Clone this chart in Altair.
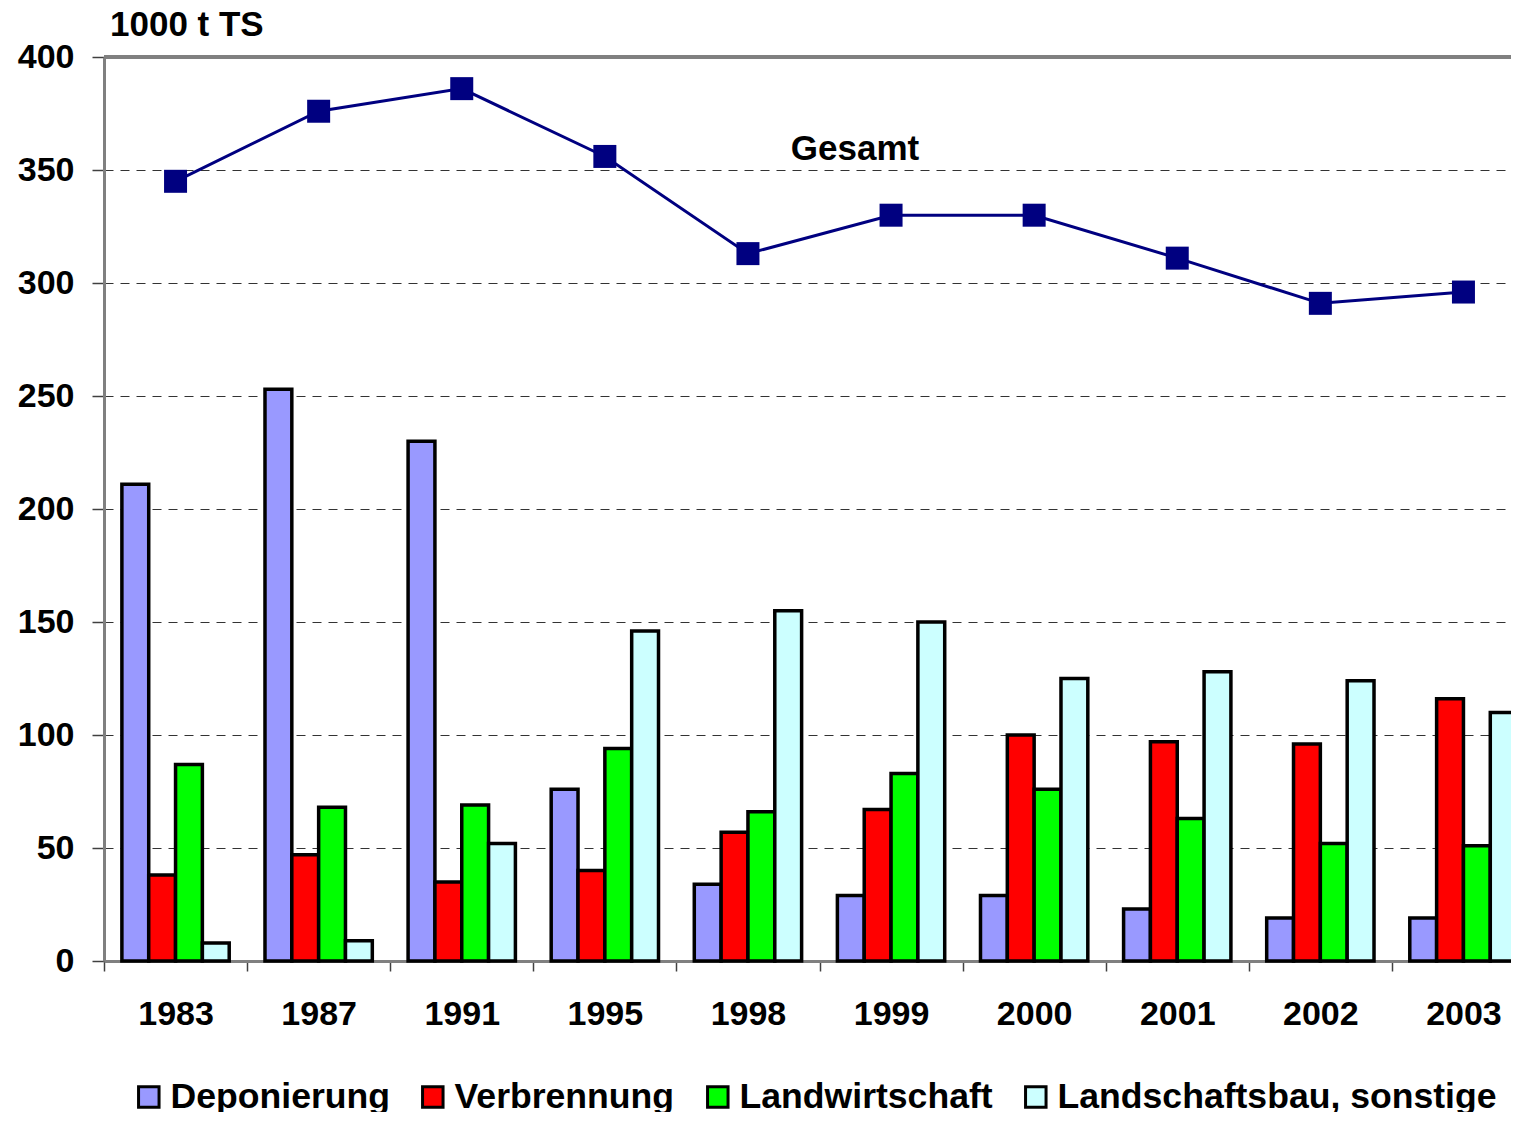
import altair as alt
import pandas as pd

FONT = "Liberation Sans"

years = ["1983", "1987", "1991", "1995", "1998", "1999", "2000", "2001", "2002", "2003"]
series_names = ["Deponierung", "Verbrennung", "Landwirtschaft", "Landschaftsbau, sonstige"]
series_colors = ["#9999FF", "#FF0000", "#00FF00", "#CCFFFF"]

deponierung = [211, 253, 230, 76, 34, 29, 29, 23, 19, 19]
verbrennung = [38, 47, 35, 40, 57, 67, 100, 97, 96, 116]
landwirtschaft = [87, 68, 69, 94, 66, 83, 76, 63, 52, 51]
landschaftsbau = [8, 9, 52, 146, 155, 150, 125, 128, 124, 110]
gesamt = [345, 376, 386, 356, 313, 330, 330, 311, 291, 296]

y_ticks = [0, 50, 100, 150, 200, 250, 300, 350, 400]

rows = []
for i, yr in enumerate(years):
    for name, vals in zip(series_names, [deponierung, verbrennung, landwirtschaft, landschaftsbau]):
        rows.append({"Jahr": yr, "Art": name, "Wert": vals[i]})
bars_df = pd.DataFrame(rows)
total_df = pd.DataFrame({"Jahr": years, "Gesamt": gesamt})
one_df = pd.DataFrame({"a": [0]})

W, H = 1431, 904
P_IN, P_OUT = 0.25, 0.125
step = W / (len(years) - P_IN + 2 * P_OUT)
half_gap = P_IN * step / 2

x_scale = alt.Scale(domain=years, paddingInner=P_IN, paddingOuter=P_OUT)
y_scale = alt.Scale(domain=[0, 400], nice=False)

x_axis = alt.Axis(
    title=None, labelFont=FONT, labelFontSize=34, labelFontWeight="bold",
    labelColor="black", labelAngle=0, labelPadding=26, tickSize=10,
    tickColor="#404040", tickWidth=1.5, bandPosition=0, tickOffset=-half_gap,
    labelOffset=half_gap, domainColor="#808080", domainWidth=3, grid=False,
)
y_axis = alt.Axis(
    title=None, values=y_ticks, labelFont=FONT, labelFontSize=34,
    labelFontWeight="bold", labelColor="black", labelPadding=18, tickSize=12,
    tickColor="#404040", tickWidth=1.5, domainColor="#808080", domainWidth=3,
    grid=True, gridDash=[9, 7], gridColor="#333333", gridWidth=1,
)

bars = alt.Chart(bars_df).mark_bar(stroke="black", strokeWidth=3.5, opacity=1).encode(
    x=alt.X("Jahr:N", scale=x_scale, axis=x_axis, sort=years),
    xOffset=alt.XOffset("Art:N", sort=series_names, scale=alt.Scale(domain=series_names, paddingInner=0, paddingOuter=0)),
    y=alt.Y("Wert:Q", scale=y_scale, axis=y_axis),
    color=alt.Color(
        "Art:N",
        scale=alt.Scale(domain=series_names, range=series_colors),
        legend=alt.Legend(
            title=None, orient="none", legendX=27, legendY=1022, direction="horizontal",
            symbolType="square", symbolSize=420, symbolStrokeColor="black",
            symbolStrokeWidth=3, symbolOpacity=1, labelFont=FONT, labelFontSize=35.6,
            labelFontWeight="bold", labelColor="black", labelOffset=4,
            columnPadding=25, labelLimit=600,
        ),
    ),
)

top_rule = alt.Chart(one_df).mark_rule(color="#808080", strokeWidth=4).encode(
    y=alt.datum(400, scale=y_scale)
)

line = alt.Chart(total_df).mark_line(color="#000080", strokeWidth=3).encode(
    x=alt.X("Jahr:N", sort=years),
    y=alt.Y("Gesamt:Q"),
)
points = alt.Chart(total_df).mark_square(size=529, color="#000080", opacity=1).encode(
    x=alt.X("Jahr:N", sort=years),
    y=alt.Y("Gesamt:Q"),
)

gesamt_label = alt.Chart(one_df).mark_text(
    text="Gesamt", font=FONT, fontSize=35, fontWeight="bold", color="black",
    align="center", baseline="middle",
).encode(x=alt.value(751), y=alt.value(92))

unit_label = alt.Chart(one_df).mark_text(
    text="1000 t TS", font=FONT, fontSize=35, fontWeight="bold", color="black",
    align="left", baseline="middle",
).encode(x=alt.value(6), y=alt.value(-32))

chart = alt.layer(bars, top_rule, line, points, gesamt_label, unit_label).properties(
    width=W, height=H,
    autosize=alt.AutoSizeParams(type="none"),
    padding={"left": 96, "top": 49, "right": -24, "bottom": 151},
).configure_view(stroke=None).configure(background="white")

chart.save("out.html", embed_options={"renderer": "svg", "actions": False})
